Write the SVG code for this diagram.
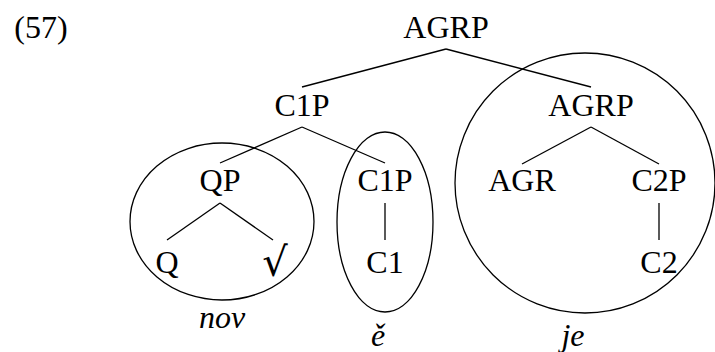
<svg xmlns="http://www.w3.org/2000/svg" width="715" height="352" viewBox="0 0 715 352">
<style>
text{font-family:"Liberation Serif","DejaVu Serif",serif;font-size:32px;fill:#000;text-anchor:middle}
.it{font-style:italic}
.sq{font-family:"DejaVu Serif",serif;font-size:40px}
.e{fill:none;stroke:#000;stroke-width:1.3}
line{stroke:#000;stroke-width:1.3}
</style>
<rect width="715" height="352" fill="#fff"/>
<text x="41" y="38">(57)</text>
<g id="edges">
<line x1="446" y1="49" x2="302" y2="87"/>
<line x1="446" y1="49" x2="591" y2="87"/>
<line x1="302" y1="127" x2="220" y2="163"/>
<line x1="302" y1="127" x2="385" y2="163"/>
<line x1="591" y1="127" x2="522" y2="164"/>
<line x1="591" y1="127" x2="659" y2="164"/>
<line x1="220" y1="203" x2="167" y2="240"/>
<line x1="220" y1="203" x2="273" y2="240"/>
<line x1="385" y1="203" x2="385" y2="240"/>
<line x1="659" y1="203" x2="659" y2="240"/>
</g>
<g id="circles">
<ellipse class="e" cx="222" cy="221.5" rx="92" ry="78.5"/>
<ellipse class="e" cx="385" cy="222" rx="48" ry="90"/>
<circle class="e" cx="585" cy="183" r="130"/>
</g>
<g id="n-agrp-root"><text x="446" y="38">AGRP</text></g>
<g id="n-c1p"><text x="302" y="116">C1P</text></g>
<g id="n-agrp"><text x="591" y="116">AGRP</text></g>
<g id="n-qp"><text x="220" y="191">QP</text></g>
<g id="n-c1p2"><text x="385" y="191">C1P</text></g>
<g id="n-agr"><text x="522" y="191">AGR</text></g>
<g id="n-c2p"><text x="659" y="191">C2P</text></g>
<g id="n-q"><text x="167" y="273">Q</text></g>
<g id="n-root"><text class="sq" x="275" y="276">√</text></g>
<g id="n-c1"><text x="385" y="273">C1</text></g>
<g id="n-c2"><text x="659" y="273">C2</text></g>
<g id="labels">
<text class="it" x="222" y="328">nov</text>
<text class="it" x="378" y="346">ě</text>
<text class="it" x="573" y="346">je</text>
</g>
</svg>
